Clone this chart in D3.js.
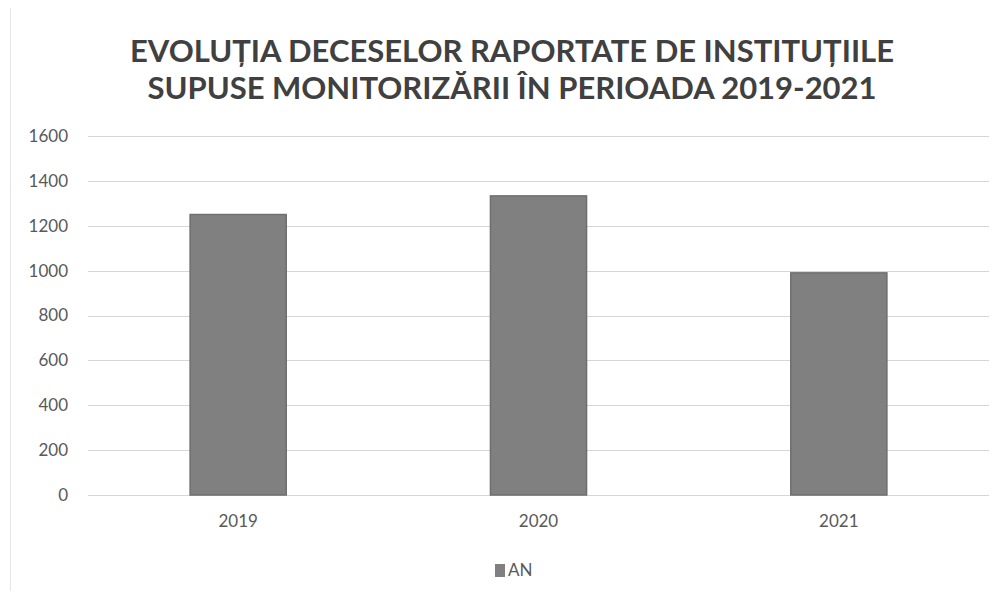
<!DOCTYPE html>
<html>
<head>
<meta charset="utf-8">
<script src="https://cdn.jsdelivr.net/npm/d3@7"></script>
<style>
  html, body { margin: 0; padding: 0; background: #fff; }
  svg { display: block; }
</style>
</head>
<body>
<svg id="chart" width="1003" height="599"></svg>
<script>
// Deaths reported by monitored institutions, per year
const categories = ["2019", "2020", "2021"];
const values = [1250, 1333, 990];
const yTicks = [0, 200, 400, 600, 800, 1000, 1200, 1400, 1600];
const titleLines = [
  "EVOLUȚIA DECESELOR RAPORTATE DE INSTITUȚIILE",
  "SUPUSE MONITORIZĂRII ÎN PERIOADA 2019-2021"
];
const seriesName = "AN";

const W = 1003, H = 599;
const margin = { top: 136, right: 12, bottom: 104, left: 88 };
const svg = d3.select("#chart");
const font = "Lato, 'Open Sans', 'Liberation Sans', sans-serif";

// chart frame edge on the left
svg.append("line")
  .attr("x1", 10.5).attr("x2", 10.5).attr("y1", 8).attr("y2", H - 8)
  .attr("stroke", "#e4e4e4").attr("stroke-width", 1);

const x = d3.scaleBand()
  .domain(categories)
  .range([margin.left, W - margin.right - 2])
  .paddingInner(0.68)
  .paddingOuter(0.34);

const y = d3.scaleLinear()
  .domain([0, 1600])
  .range([H - margin.bottom, margin.top]);

// gridlines
svg.append("g")
  .selectAll("line")
  .data(yTicks)
  .join("line")
  .attr("x1", margin.left)
  .attr("x2", W - margin.right - 2)
  .attr("y1", d => Math.round(y(d)) + 0.5)
  .attr("y2", d => Math.round(y(d)) + 0.5)
  .attr("stroke", "#d6d6d6")
  .attr("stroke-width", 1);

// y axis labels
const yAxis = d3.axisLeft(y).tickValues(yTicks).tickFormat(d3.format("d"))
  .tickSize(0).tickPadding(0);
const gy = svg.append("g")
  .attr("transform", `translate(${margin.left - 20},0)`)
  .call(yAxis);
gy.select(".domain").remove();
gy.selectAll("text")
  .attr("font-family", font)
  .attr("font-size", 17)
  .attr("fill", "#595959");

// bars
svg.append("g")
  .selectAll("rect")
  .data(values)
  .join("rect")
  .attr("x", (d, i) => x(categories[i]))
  .attr("y", d => y(d))
  .attr("width", x.bandwidth())
  .attr("height", d => y(0) - y(d))
  .attr("fill", "#808080")
  .attr("stroke", "#6e6e6e")
  .attr("stroke-width", 1.5);

// x axis labels
const xAxis = d3.axisBottom(x).tickSize(0).tickPadding(0);
const gx = svg.append("g")
  .attr("transform", `translate(0,${H - margin.bottom + 20})`)
  .call(xAxis);
gx.select(".domain").remove();
gx.selectAll("text")
  .attr("font-family", font)
  .attr("font-size", 17)
  .attr("fill", "#595959");

// title
svg.append("g")
  .selectAll("text")
  .data(titleLines)
  .join("text")
  .attr("x", 512)
  .attr("y", (d, i) => 62 + i * 37)
  .attr("text-anchor", "middle")
  .attr("font-family", font)
  .attr("font-weight", 700)
  .attr("font-size", 31)
  .attr("fill", "#404040")
  .text(d => d);

// legend
const lg = svg.append("g").attr("transform", "translate(495,570.5)");
lg.append("rect")
  .attr("x", 0).attr("y", -6.5).attr("width", 10).attr("height", 13)
  .attr("fill", "#808080");
lg.append("text")
  .attr("x", 13).attr("y", 0)
  .attr("dy", "0.35em")
  .attr("font-family", font)
  .attr("font-size", 17)
  .attr("fill", "#595959")
  .text(seriesName);
</script>
</body>
</html>
